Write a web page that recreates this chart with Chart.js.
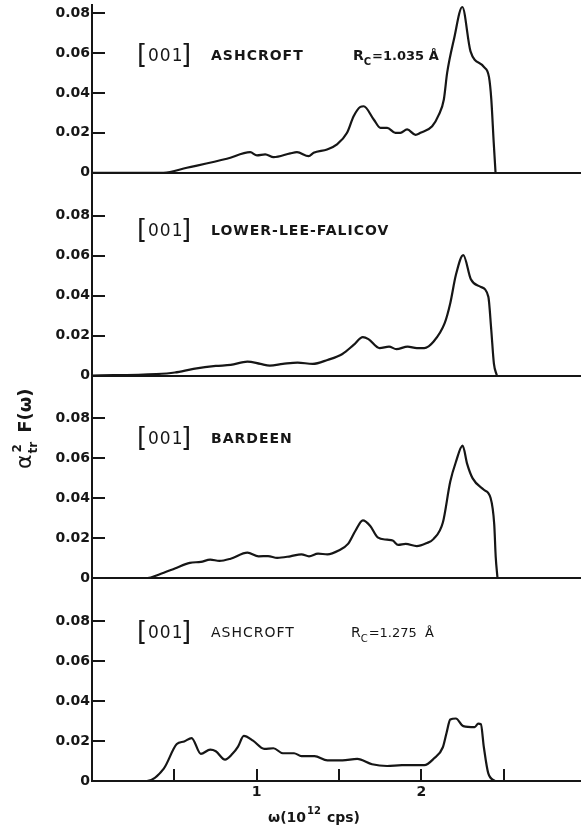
<!DOCTYPE html>
<html>
<head>
<meta charset="utf-8">
<script src="https://cdn.jsdelivr.net/npm/chart.js@4.4.1/dist/chart.umd.min.js"></script>
<style>
  html, body { margin: 0; padding: 0; background: #fff; }
  #c { display: block; }
</style>
</head>
<body>
<canvas id="c" width="581" height="829"></canvas>
<script>
// Frequency axis ticks (units of 10^12 cps)
const omegaTicks = [0.5, 1, 1.5, 2, 2.5];
const omegaTickLabels = ['', '1', '', '2', ''];

// Spectral function axis ticks, shared by every panel
const fTicks = [0, 0.02, 0.04, 0.06, 0.08];
const fTickLabels = ['0', '0.02', '0.04', '0.06', '0.08'];

// Panel 1: [001], Ashcroft pseudopotential, Rc = 1.035 Å
const omegaAsh1 = [0, 0.434, 0.576, 0.819, 0.961, 1.002, 1.052, 1.103, 1.204, 1.245, 1.316, 1.346, 1.428, 1.488,
  1.549, 1.589, 1.630, 1.650, 1.711, 1.752, 1.793, 1.843, 1.873, 1.914, 1.965, 1.995, 2.066, 2.106, 2.137, 2.157,
  2.198, 2.249, 2.299, 2.380, 2.411, 2.425, 2.440, 2.451];
const fAsh1 = [0, 0, 0.0025, 0.007, 0.0103, 0.0087, 0.0092, 0.0078, 0.0097, 0.0103, 0.0083, 0.010, 0.0117, 0.0142,
  0.020, 0.0283, 0.033, 0.0333, 0.0267, 0.0225, 0.0225, 0.020, 0.020, 0.0217, 0.019, 0.020, 0.0233, 0.029, 0.0367, 0.050,
  0.0667, 0.083, 0.0608, 0.053, 0.048, 0.037, 0.015, 0];

// Panel 2: [001], Lower-Lee-Falicov
const omegaLLF = [0, 0.39, 0.503, 0.616, 0.752, 0.842, 0.944, 1.023, 1.080, 1.159, 1.249, 1.340, 1.430, 1.521,
  1.589, 1.645, 1.679, 1.747, 1.804, 1.849, 1.917, 1.973, 2.018, 2.075, 2.142, 2.176, 2.210, 2.255, 2.301, 2.358,
  2.407, 2.425, 2.441, 2.459];
const fLLF = [0, 0.0007, 0.0015, 0.0033, 0.0048, 0.0053, 0.007, 0.0058, 0.005, 0.0058, 0.0065, 0.0058, 0.0078, 0.0108,
  0.0153, 0.0192, 0.0182, 0.0137, 0.0145, 0.0132, 0.0145, 0.0137, 0.0137, 0.017, 0.0262, 0.0362, 0.0503, 0.0603, 0.0482, 0.0445,
  0.0395, 0.0228, 0.006, 0];

// Panel 3: [001], Bardeen
const omegaBar = [0, 0.322, 0.436, 0.503, 0.594, 0.661, 0.718, 0.774, 0.842, 0.944, 1.012, 1.069, 1.125, 1.204,
  1.272, 1.318, 1.373, 1.430, 1.498, 1.555, 1.600, 1.645, 1.690, 1.735, 1.792, 1.826, 1.860, 1.905, 1.973, 2.030,
  2.075, 2.131, 2.176, 2.210, 2.251, 2.278, 2.312, 2.380, 2.421, 2.443, 2.452, 2.463];
const fBar = [0, 0, 0.0028, 0.0049, 0.0077, 0.0082, 0.0093, 0.0087, 0.0098, 0.0128, 0.011, 0.0111, 0.0102, 0.011,
  0.012, 0.011, 0.0123, 0.012, 0.0139, 0.0172, 0.0238, 0.029, 0.0262, 0.0205, 0.0193, 0.0189, 0.0167, 0.0172, 0.0161, 0.0175,
  0.0197, 0.0279, 0.0484, 0.0582, 0.0664, 0.0574, 0.050, 0.0443, 0.0402, 0.027, 0.0107, 0];

// Panel 4: [001], Ashcroft pseudopotential, Rc = 1.275 Å
const omegaAsh2 = [0, 0.333, 0.436, 0.515, 0.560, 0.605, 0.661, 0.718, 0.752, 0.808, 0.853, 0.887, 0.922, 0.978,
  1.046, 1.102, 1.159, 1.227, 1.272, 1.351, 1.430, 1.521, 1.611, 1.701, 1.792, 1.883, 2.018, 2.075, 2.131, 2.154,
  2.176, 2.210, 2.255, 2.324, 2.346, 2.362, 2.380, 2.407, 2.448];
const fAsh2 = [0, 0, 0.0062, 0.0185, 0.0198, 0.0215, 0.0136, 0.0157, 0.0149, 0.0107, 0.0136, 0.0172, 0.0226, 0.0202,
  0.0161, 0.0164, 0.0139, 0.0139, 0.0125, 0.0125, 0.0103, 0.0103, 0.0111, 0.0084, 0.0075, 0.0079, 0.0079, 0.0111, 0.0169, 0.0243,
  0.0308, 0.0313, 0.0275, 0.027, 0.0287, 0.0284, 0.0169, 0.0038, 0];

// Panel captions
const panelDirection = '001';
const panelNames = ['ASHCROFT', 'LOWER-LEE-FALICOV', 'BARDEEN', 'ASHCROFT'];
const panelRc = ['1.035', null, null, '1.275'];

const INK = '#161616';
const FONT = '"DejaVu Sans", sans-serif';

const pts = (xs, ys) => xs.map((x, i) => ({ x, y: ys[i] }));

const curve = (label, xs, ys, axis) => ({
  label,
  data: pts(xs, ys),
  yAxisID: axis,
  borderColor: INK,
  borderWidth: 2.2,
  pointRadius: 0,
  fill: false,
  cubicInterpolationMode: 'monotone'
});

// One vertical axis per panel, stacked top to bottom
const panelAxis = (max, order) => ({
  type: 'linear',
  position: 'left',
  stack: 'panels',
  stackWeight: max,
  weight: order,
  min: 0,
  max: max,
  afterBuildTicks: s => { s.ticks = fTicks.map(v => ({ value: v })); },
  afterFit: s => { s.width = 92; s.paddingTop = 0; s.paddingBottom = 0; },
  ticks: {
    callback: (v, i) => fTickLabels[i],
    font: { family: FONT, size: 14, weight: 'bold' },
    color: INK,
    padding: 2
  },
  grid: {
    drawTicks: false,
    lineWidth: 2,
    color: c => (c.tick && c.tick.value === 0) ? INK : 'rgba(0,0,0,0)'
  },
  border: { display: true, color: INK, width: 2 }
});

// Inward tick marks on every panel and on the frequency axis
const inwardTicks = {
  id: 'inwardTicks',
  afterDraw(chart) {
    const ctx = chart.ctx;
    const area = chart.chartArea;
    ctx.save();
    ctx.strokeStyle = INK;
    ctx.lineWidth = 2;
    ['p1', 'p2', 'p3', 'p4'].forEach(id => {
      const s = chart.scales[id];
      s.ticks.forEach(t => {
        const y = Math.round(s.getPixelForValue(t.value));
        ctx.beginPath();
        ctx.moveTo(area.left, y);
        ctx.lineTo(area.left + 13, y);
        ctx.stroke();
      });
    });
    const xs = chart.scales.x;
    xs.ticks.forEach(t => {
      const x = Math.round(xs.getPixelForValue(t.value));
      ctx.beginPath();
      ctx.moveTo(x, area.bottom);
      ctx.lineTo(x, area.bottom - 12);
      ctx.stroke();
    });
    ctx.restore();
  }
};

// Captions inside each panel, and the axis titles
const captions = {
  id: 'captions',
  afterDraw(chart) {
    const ctx = chart.ctx;
    ctx.save();
    ctx.fillStyle = INK;
    ctx.textBaseline = 'alphabetic';
    ctx.textAlign = 'left';
    const ids = ['p1', 'p2', 'p3', 'p4'];
    const rise = [113, 141, 135, 144];
    ids.forEach((id, k) => {
      const zero = chart.scales[id].getPixelForValue(0);
      const base = zero - rise[k];
      // [001] with tall brackets
      ctx.font = '26px ' + FONT;
      ctx.fillText('[', 137, base + 3);
      ctx.font = '17px ' + FONT;
      ctx.letterSpacing = '1px';
      ctx.fillText(panelDirection, 148, base + 1);
      ctx.letterSpacing = '0px';
      ctx.font = '26px ' + FONT;
      ctx.fillText(']', 181, base + 3);

      const weight = k === 3 ? 'normal' : 'bold';
      ctx.font = weight + ' 14px ' + FONT;
      ctx.letterSpacing = '1px';
      ctx.fillText(panelNames[k], 211, base);
      ctx.letterSpacing = '0px';
      if (panelRc[k]) {
        let x = k === 3 ? 351 : 353;
        ctx.font = weight + ' 14px ' + FONT;
        ctx.fillText('R', x, base);
        x += ctx.measureText('R').width;
        ctx.font = weight + ' 10px ' + FONT;
        ctx.fillText('C', x, base + 5);
        x += ctx.measureText('C').width + 1;
        ctx.font = weight + ' 13px ' + FONT;
        const rest = '=' + panelRc[k] + (k === 3 ? '  Å' : ' Å');
        ctx.fillText(rest, x, base);
      }
    });

    // vertical title: alpha^2_tr F(omega)
    ctx.translate(31, 469);
    ctx.rotate(-Math.PI / 2);
    ctx.font = '22px ' + FONT;
    ctx.fillText('α', 0, 0);
    let x = ctx.measureText('α').width + 1;
    ctx.font = 'bold 12px ' + FONT;
    ctx.fillText('2', x + 1, -10);
    ctx.fillText('tr', x, 6);
    x += ctx.measureText('tr').width + 9;
    ctx.font = 'bold 18px ' + FONT;
    ctx.fillText('F(ω)', x, 0);
    ctx.setTransform(1, 0, 0, 1, 0, 0);

    // horizontal title: omega (10^12 cps)
    ctx.font = 'bold 14px ' + FONT;
    let hx = 268;
    ctx.fillText('ω(10', hx, 822);
    hx += ctx.measureText('ω(10').width + 1;
    ctx.font = 'bold 10px ' + FONT;
    ctx.fillText('12', hx, 814);
    hx += ctx.measureText('12').width + 6;
    ctx.font = 'bold 14px ' + FONT;
    ctx.fillText('cps)', hx, 822);
    ctx.restore();
  }
};

new Chart(document.getElementById('c'), {
  type: 'line',
  data: {
    datasets: [
      curve('Ashcroft Rc=1.035', omegaAsh1, fAsh1, 'p1'),
      curve('Lower-Lee-Falicov', omegaLLF, fLLF, 'p2'),
      curve('Bardeen', omegaBar, fBar, 'p3'),
      curve('Ashcroft Rc=1.275', omegaAsh2, fAsh2, 'p4')
    ]
  },
  options: {
    responsive: false,
    animation: false,
    devicePixelRatio: 1,
    layout: { padding: { top: 5, left: 0, right: 0, bottom: 0 } },
    plugins: { legend: { display: false }, tooltip: { enabled: false } },
    scales: {
      x: {
        type: 'linear',
        position: 'bottom',
        min: 0,
        max: 2.97,
        afterBuildTicks: s => { s.ticks = omegaTicks.map(v => ({ value: v })); },
        afterFit: s => { s.height = 48; },
        ticks: {
          autoSkip: false,
          maxRotation: 0,
          callback: (v, i) => omegaTickLabels[i],
          font: { family: FONT, size: 14, weight: 'bold' },
          color: INK,
          padding: 3
        },
        grid: { display: false, drawTicks: false, tickLength: 0 },
        border: { display: false }
      },
      p4: panelAxis(0.1015, 1),
      p3: panelAxis(0.1015, 2),
      p2: panelAxis(0.1015, 3),
      p1: panelAxis(0.084, 4)
    }
  },
  plugins: [inwardTicks, captions]
});
</script>
</body>
</html>
